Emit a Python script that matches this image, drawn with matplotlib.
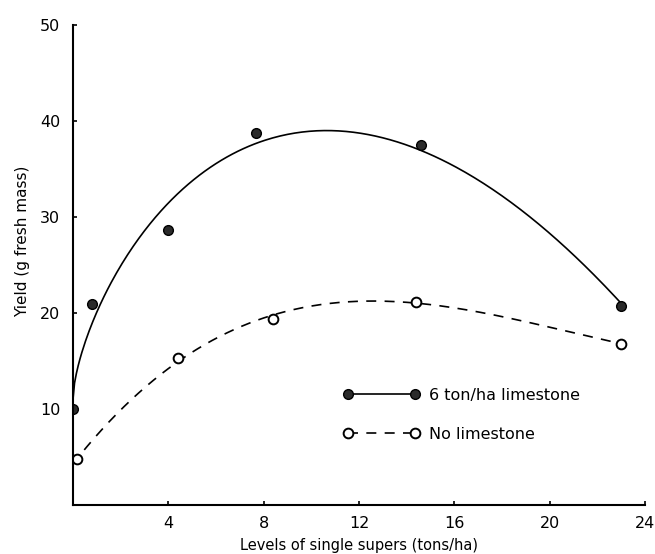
import numpy as np
import matplotlib.pyplot as plt

# yield response to single superphosphate, with and without limestone
supers_lime = [0.0, 0.8, 4.0, 7.7, 14.6, 23.0]
yield_lime = [10.0, 21.0, 28.7, 38.7, 37.5, 20.7]

supers_none = [0.2, 4.4, 8.4, 14.4, 23.0]
yield_none = [4.8, 15.3, 19.4, 21.2, 16.8]

x_ticks = [4, 8, 12, 16, 20, 24]
y_ticks = [10, 20, 30, 40, 50]

plt.rcParams['font.family'] = ['DejaVu Sans']

fig = plt.figure(figsize=(6.55, 5.54), dpi=100)
ax = fig.add_axes([0.111, 0.088, 0.874, 0.867])


def trend(x, y, deg, p):
    # least-squares polynomial in x**p
    s = np.asarray(x) ** p
    coef = np.polyfit(s, y, deg)
    xs = np.linspace(0, max(x), 300)
    return xs, np.polyval(coef, xs ** p)


dash = (0, (6, 5))

xs, ys = trend(supers_lime, yield_lime, 3, 0.5)
ax.plot(xs, ys, color='black', lw=1.2)
xs, ys = trend(supers_none, yield_none, 3, 1)
ax.plot(xs, ys, color='black', lw=1.2, ls=dash)

ax.plot(supers_lime, yield_lime, 'o', ms=7, mfc='#2a2a2a', mec='black',
        mew=1.0, ls='none')
ax.plot(supers_none, yield_none, 'o', ms=7, mfc='white', mec='black',
        mew=1.4, ls='none')

# legend entries with markers at both ends of the line
h1, = ax.plot([], [], 'o-', color='black', ms=7, mfc='#2a2a2a', lw=1.2)
h2, = ax.plot([], [], 'o', color='black', ms=7, mfc='white', mew=1.4, lw=1.2,
              ls=dash)
ax.legend([h1, h2], ['6 ton/ha limestone', 'No limestone'], numpoints=2,
          handlelength=4.8, frameon=False, fontsize=11.5, loc='upper left',
          bbox_to_anchor=(0.472, 0.245), borderpad=0, borderaxespad=0,
          labelspacing=1.5, handletextpad=0.6)

ax.set_xlim(0, 24)
ax.set_ylim(0, 50)
ax.set_xticks(x_ticks)
ax.set_yticks(y_ticks)
ax.tick_params(direction='in', length=3, width=1.2, labelsize=11.5)
ax.tick_params(axis='y', pad=9)
ax.tick_params(axis='x', pad=8)
for side in ['top', 'right']:
    ax.spines[side].set_visible(False)
for side in ['left', 'bottom']:
    ax.spines[side].set_linewidth(1.5)

ax.set_xlabel('Levels of single supers (tons/ha)', fontsize=10.5)
ax.set_ylabel('Yield (g fresh mass)', fontsize=11)
ax.xaxis.set_label_coords(0.5, -0.069)
ax.yaxis.set_label_coords(-0.075, 0.55)

fig.savefig('out.png', dpi=100)
